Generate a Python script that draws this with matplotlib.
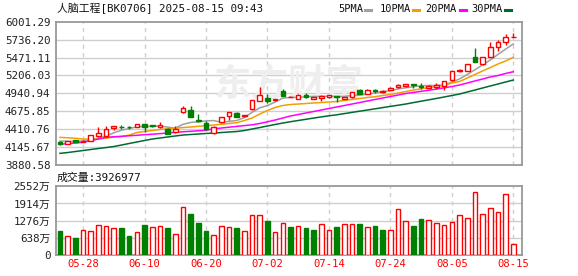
import matplotlib
matplotlib.use("Agg")
import matplotlib.pyplot as plt
from matplotlib.lines import Line2D
import numpy as np

plt.rcParams['font.family'] = ['DejaVu Sans Mono', 'Noto Sans CJK SC']

# ---------------- data ----------------
dates = ["05-23", "05-26", "05-27", "05-28", "05-29", "05-30", "06-03", "06-04", "06-05", "06-06",
         "06-09", "06-10", "06-11", "06-12", "06-13", "06-16", "06-17", "06-18", "06-19", "06-20",
         "06-23", "06-24", "06-25", "06-26", "06-27", "06-30", "07-01", "07-02", "07-03", "07-04",
         "07-07", "07-08", "07-09", "07-10", "07-11", "07-14", "07-15", "07-16", "07-17", "07-18",
         "07-21", "07-22", "07-23", "07-24", "07-25", "07-28", "07-29", "07-30", "07-31", "08-01",
         "08-04", "08-05", "08-06", "08-07", "08-08", "08-11", "08-12", "08-13", "08-14", "08-15"]

opens = [4228, 4195, 4250, 4226, 4236, 4314, 4314, 4433, 4448, 4442,
         4447, 4487, 4472, 4438, 4418, 4368, 4665, 4694, 4542, 4507,
         4350, 4512, 4610, 4645, 4601, 4709, 4832, 4868, 4838, 4980,
         4884, 4857, 4916, 4858, 4868, 4882, 4895, 4862, 4882, 4990,
         4931, 4988, 4960, 4992, 5030, 5052, 5072, 5050, 5020, 5035,
         5045, 5134, 5265, 5276, 5485, 5375, 5480, 5622, 5705, 5775]
highs = [4240, 4238, 4255, 4248, 4325, 4441, 4458, 4462, 4470, 4455,
         4490, 4490, 4478, 4517, 4425, 4458, 4760, 4754, 4635, 4532,
         4455, 4595, 4668, 4665, 4625, 4845, 5030, 4931, 4860, 5000,
         4905, 4925, 4941, 4885, 4912, 4920, 4908, 4892, 4962, 4998,
         4998, 5000, 4990, 5030, 5075, 5080, 5084, 5094, 5065, 5090,
         5125, 5275, 5300, 5380, 5612, 5485, 5700, 5730, 5820, 5838]
lows = [4180, 4188, 4222, 4218, 4230, 4290, 4300, 4398, 4410, 4420,
        4440, 4373, 4450, 4430, 4335, 4360, 4646, 4590, 4512, 4400,
        4340, 4505, 4546, 4590, 4598, 4700, 4825, 4793, 4835, 4900,
        4880, 4850, 4875, 4850, 4835, 4878, 4808, 4855, 4876, 4925,
        4925, 4950, 4945, 4985, 5025, 5040, 5025, 4998, 5015, 5000,
        4995, 5128, 5255, 5265, 5400, 5365, 5475, 5570, 5656, 5772]
closes = [4188, 4232, 4228, 4240, 4320, 4354, 4409, 4458, 4440, 4436,
          4483, 4443, 4455, 4478, 4344, 4413, 4719, 4595, 4527, 4409,
          4447, 4586, 4660, 4595, 4620, 4838, 4921, 4828, 4857, 4906,
          4892, 4916, 4882, 4880, 4906, 4916, 4885, 4888, 4956, 4931,
          4990, 4980, 4975, 5020, 5064, 5075, 5066, 5042, 5045, 5060,
          5118, 5267, 5282, 5375, 5405, 5475, 5632, 5700, 5770, 5782]
prev_close_first = 4230

# volume in 万
volumes = [885, 690, 627, 922, 885, 1096, 1059, 985, 996, 701,
           838, 1107, 1022, 1059, 996, 764, 1797, 1513, 1181, 885,
           727, 1059, 1022, 996, 875, 1502, 1502, 1255, 838, 1207,
           1033, 1059, 996, 922, 1133, 911, 1033, 1170, 1170, 1144,
           1022, 1070, 922, 911, 1723, 1280, 1070, 1328, 1317, 1207,
           1096, 1243, 1476, 1391, 2350, 1538, 1760, 1612, 2276, 392.6977]

ma5 = [4235, 4232, 4230, 4235, 4242, 4275, 4310, 4356, 4396, 4419,
       4445, 4452, 4451, 4459, 4441, 4427, 4482, 4510, 4520, 4533,
       4539, 4513, 4526, 4539, 4582, 4660, 4727, 4760, 4813, 4870,
       4881, 4880, 4891, 4895, 4895, 4900, 4894, 4895, 4910, 4915,
       4930, 4949, 4966, 4979, 5006, 5023, 5040, 5053, 5058, 5058,
       5066, 5106, 5154, 5220, 5289, 5361, 5434, 5517, 5596, 5672]
ma10 = [4290, 4283, 4276, 4265, 4261, 4268, 4276, 4295, 4302, 4324,
        4361, 4376, 4391, 4406, 4416, 4424, 4435, 4443, 4453, 4462,
        4472, 4483, 4495, 4506, 4539, 4576, 4635, 4687, 4732, 4761,
        4776, 4783, 4791, 4798, 4805, 4813, 4820, 4835, 4850, 4865,
        4879, 4891, 4909, 4924, 4946, 4968, 4990, 5008, 5027, 5042,
        5057, 5094, 5116, 5168, 5220, 5272, 5323, 5375, 5420, 5474]
ma20 = [4187, 4197, 4206, 4216, 4241, 4265, 4290, 4298, 4305, 4313,
        4320, 4329, 4336, 4345, 4354, 4364, 4372, 4379, 4387, 4394,
        4416, 4428, 4440, 4452, 4464, 4475, 4495, 4520, 4546, 4576,
        4606, 4628, 4650, 4672, 4694, 4717, 4739, 4761, 4783, 4805,
        4828, 4850, 4872, 4894, 4916, 4939, 4955, 4971, 4987, 5005,
        5023, 5042, 5064, 5094, 5124, 5153, 5183, 5205, 5235, 5261]
ma30 = [4053, 4065, 4080, 4095, 4110, 4125, 4139, 4154, 4176, 4199,
        4221, 4243, 4265, 4280, 4295, 4310, 4324, 4332, 4339, 4347,
        4354, 4361, 4369, 4376, 4391, 4413, 4435, 4458, 4480, 4502,
        4521, 4539, 4557, 4575, 4592, 4609, 4623, 4641, 4659, 4677,
        4694, 4712, 4730, 4748, 4765, 4783, 4804, 4825, 4845, 4866,
        4887, 4909, 4931, 4961, 4990, 5020, 5050, 5079, 5109, 5138]

price_ticks = [3880.58, 4145.67, 4410.76, 4675.85, 4940.94, 5206.03, 5471.11, 5736.20, 6001.29]
vol_ticks = [0, 638, 1276, 1914, 2552]
vol_tick_labels = ["0", "638万", "1276万", "1914万", "2552万"]
tick_dates = ["05-28", "06-10", "06-20", "07-02", "07-14", "07-24", "08-05", "08-15"]

title = "人脑工程[BK0706] 2025-08-15 09:43"
vol_title = "成交量:3926977"
ma_names = ["5PMA", "10PMA", "20PMA", "30PMA"]

# ---------------- style ----------------
RED = "#ff0000"
GREEN = "#008000"
MA_COLORS = ["#a0a0a0", "#f0a000", "#ff00ff", "#006b2e"]
GRID = "#cfcfcf"
SPINE = "#999999"
FS = 7.8

W, H = 578, 276
fig = plt.figure(figsize=(W / 100, H / 100), dpi=100)

def frac_box(l, t, r, b):
    return [l / W, 1 - b / H, (r - l) / W, (b - t) / H]

ax = fig.add_axes(frac_box(56, 21.7, 522, 165))
axv = fig.add_axes(frac_box(56, 186.3, 522, 255))

x = np.arange(len(dates))
o = np.array(opens, float); c = np.array(closes, float)
h = np.array(highs, float); l = np.array(lows, float)
up = c >= o

tick_idx = [dates.index(d) for d in tick_dates]

for a in (ax, axv):
    a.set_xlim(-0.52, len(dates) + 0.13)
    for s in a.spines.values():
        s.set_color(SPINE)
        s.set_linewidth(1.3)
    a.tick_params(length=0, labelsize=FS, colors="#222222", pad=4)
    for ti in tick_idx:
        a.axvline(ti, color=GRID, lw=1, ls=(0, (3, 3)), zorder=0)

# price panel
ax.set_ylim(price_ticks[0], price_ticks[-1])
ax.set_yticks(price_ticks)
ax.set_yticklabels([f"{v:.2f}" for v in price_ticks])
for v in price_ticks[1:-1]:
    ax.axhline(v, color=GRID, lw=1, zorder=0)
ax.set_xticks([])

ax.text(0.5, 0.56, "东方财富", transform=ax.transAxes, fontsize=27, color="#eeeeee",
        ha="center", va="center", fontweight="bold", zorder=0.5,
        family=["Noto Sans CJK SC"])

for vals, col in zip([ma5, ma10, ma20, ma30], MA_COLORS):
    ax.plot(x, vals, color=col, lw=1.1, zorder=2)

wick_cols = [RED if u else GREEN for u in up]
ax.vlines(x, l, h, colors=wick_cols, lw=1, zorder=3)
body_bottom = np.minimum(o, c)
body_h = np.maximum(np.abs(c - o), 4)
ax.bar(x, body_h, bottom=body_bottom, width=0.6,
       color=["white" if u else GREEN for u in up],
       edgecolor=wick_cols, linewidth=1, zorder=4)

# volume panel
prev = np.concatenate([[prev_close_first], c[:-1]])
vol_up = c >= prev
axv.set_ylim(0, vol_ticks[-1])
axv.set_yticks(vol_ticks)
axv.set_yticklabels(vol_tick_labels)
for v in vol_ticks[1:-1]:
    axv.axhline(v, color=GRID, lw=1, zorder=0)
axv.bar(x, volumes, width=0.6,
        color=["white" if u else GREEN for u in vol_up],
        edgecolor=[RED if u else GREEN for u in vol_up], linewidth=1, zorder=3)
axv.set_xticks(tick_idx)
axv.set_xticklabels(tick_dates, color=RED, fontsize=7.6)
axv.tick_params(axis="x", colors=RED, pad=3)

# texts
fig.text(57 / W, 1 - 8.5 / H, title, fontsize=FS, va="center", ha="left", color="#111111")
fig.text(57 / W, 1 - 177.5 / H, vol_title, fontsize=FS, va="center", ha="left", color="#111111")

leg_text_x = [338, 380, 425.5, 471.5]
leg_dash_x = [(365, 371), (412.5, 418.5), (459.5, 465.5), (505, 511)]
for name, tx, (d0, d1), col in zip(ma_names, leg_text_x, leg_dash_x, MA_COLORS):
    fig.text(tx / W, 1 - 8.5 / H, name, fontsize=7.5, va="center", ha="left", color="#111111")
    fig.add_artist(Line2D([d0 / W, d1 / W], [1 - 10 / H, 1 - 10 / H], color=col, lw=2.2))

fig.savefig("out.png", dpi=100)
